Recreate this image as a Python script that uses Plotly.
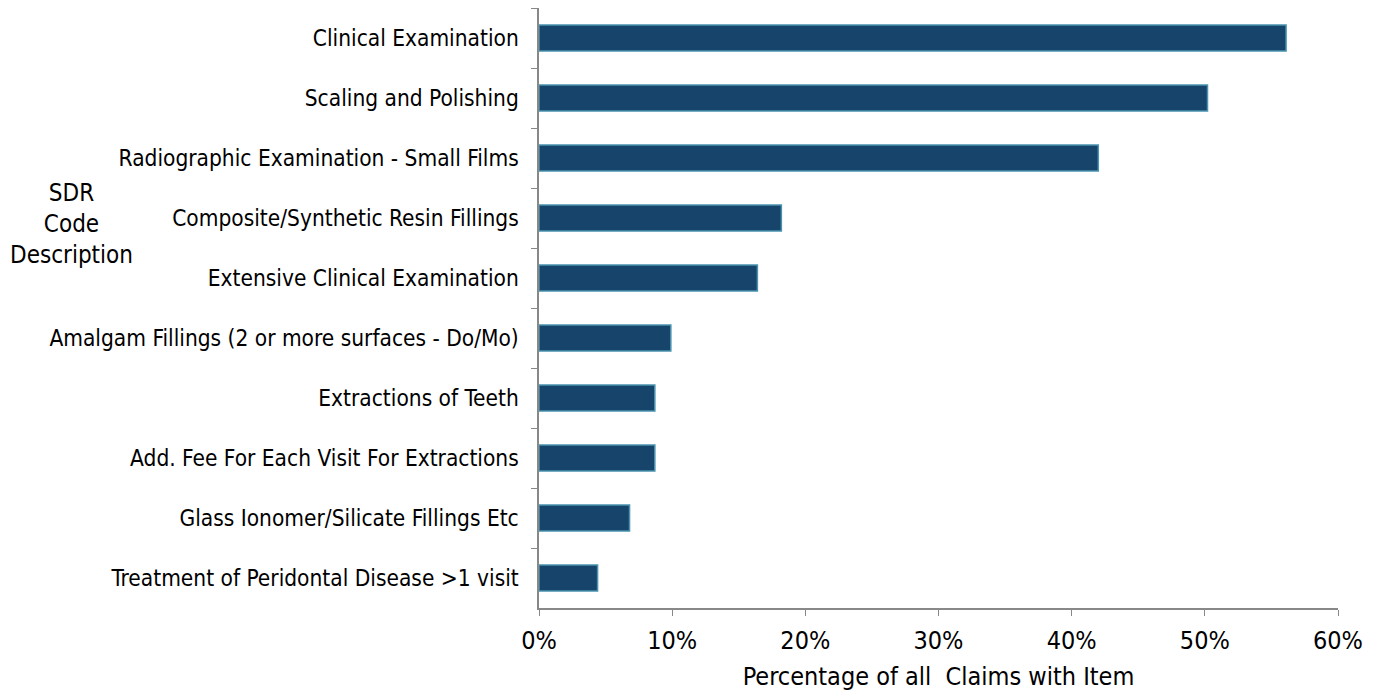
import plotly.graph_objects as go

# SDR code descriptions and share of claims (%)
categories = [
    'Clinical Examination',
    'Scaling and Polishing',
    'Radiographic Examination - Small Films',
    'Composite/Synthetic Resin Fillings',
    'Extensive Clinical Examination',
    'Amalgam Fillings (2 or more surfaces - Do/Mo)',
    'Extractions of Teeth',
    'Add. Fee For Each Visit For Extractions',
    'Glass Ionomer/Silicate Fillings Etc',
    'Treatment of Peridontal Disease >1 visit',
]
pct_claims = [56.1, 50.2, 42.0, 18.2, 16.4, 9.9, 8.7, 8.7, 6.8, 4.4]
x_ticks = [0, 10, 20, 30, 40, 50, 60]
x_tick_labels = ['0%', '10%', '20%', '30%', '40%', '50%', '60%']

FONT = 'DejaVu Sans Condensed, Roboto, sans-serif'

fig = go.Figure(go.Bar(
    x=pct_claims,
    y=categories,
    orientation='h',
    marker=dict(color='#17446B', line=dict(color='#4A92AE', width=1.5)),
    hoverinfo='x+y',
))

# page body adds an 8px offset, so the figure is 8px smaller each way
fig.update_layout(
    width=1378, height=684,
    margin=dict(l=531, r=48, t=0, b=84, autoexpand=False),
    plot_bgcolor='white', paper_bgcolor='white',
    bargap=0.57,
    showlegend=False,
    font=dict(family=FONT, color='black'),
    xaxis=dict(
        range=[0, 60], tickvals=x_ticks, ticktext=x_tick_labels,
        showgrid=False, zeroline=False,
        showline=True, linecolor='#888888', linewidth=1.5,
        ticks='outside', tickcolor='#888888', ticklen=6,
        tickfont=dict(size=25),
        ticklabelstandoff=3,
        title=dict(text='Percentage of all  Claims with Item', font=dict(size=25), standoff=14),
        automargin=False,
    ),
    yaxis=dict(
        autorange='reversed', tickson='boundaries',
        showgrid=False, showline=True, linecolor='#888888', linewidth=1.5,
        ticks='outside', tickcolor='#888888', ticklen=6,
        tickfont=dict(size=22.5),
        ticklabelstandoff=14,
        automargin=False,
    ),
)

fig.add_annotation(
    text='SDR<br>Code<br>Description', xref='paper', yref='paper',
    x=-0.585, y=0.64, xanchor='center', yanchor='middle', showarrow=False,
    font=dict(size=24, family=FONT, color='black'),
)

fig.write_html("out.html")
